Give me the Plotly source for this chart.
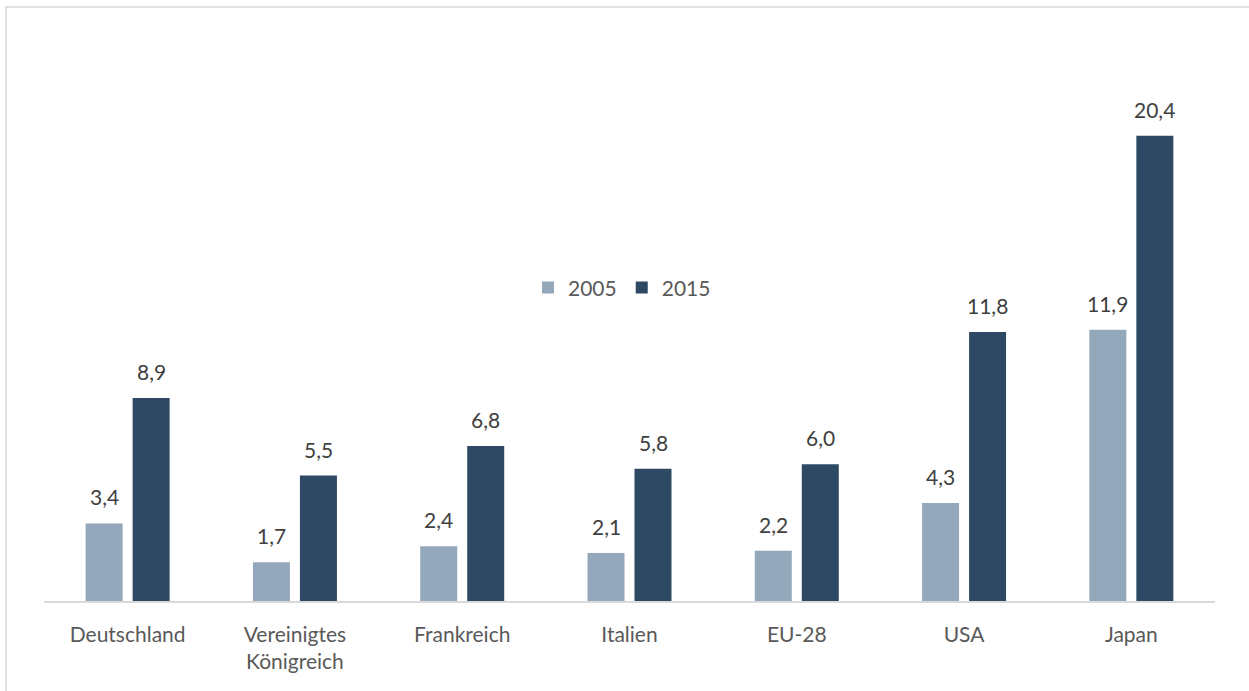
import plotly.graph_objects as go

categories = ["Deutschland", "Vereinigtes<br>Königreich", "Frankreich", "Italien", "EU-28", "USA", "Japan"]
v2005 = [3.4, 1.7, 2.4, 2.1, 2.2, 4.3, 11.9]
v2015 = [8.9, 5.5, 6.8, 5.8, 6.0, 11.8, 20.4]
series_names = ["2005", "2015"]
colors = ["#94A8BC", "#2E4963"]

FONT = "Lato, 'Open Sans', sans-serif"

fig = go.Figure()
for name, vals, col in zip(series_names, [v2005, v2015], colors):
    fig.add_trace(go.Bar(x=categories, y=vals, name=name, marker=dict(color=col, line=dict(width=0))))

annotations = []
for vals, shift in zip([v2005, v2015], [-23.5, 23.5]):
    for c, v in zip(categories, vals):
        annotations.append(dict(x=c, y=v, xref="x", yref="y", text=f"{v:.1f}".replace(".", ","),
                                showarrow=False, xshift=shift, yshift=12, yanchor="bottom",
                                font=dict(family=FONT, size=21, color="#404040")))

fig.update_layout(
    width=1249, height=691,
    margin=dict(l=44, r=34, t=20, b=90),
    paper_bgcolor="white", plot_bgcolor="white",
    barmode="group", bargap=0.438, bargroupgap=0.213,
    font=dict(family=FONT, size=21, color="#595959"),
    showlegend=True,
    legend=dict(orientation="h", x=0.4936, xanchor="center", y=0.539, yanchor="middle",
                font=dict(family=FONT, size=21, color="#595959"), bgcolor="rgba(0,0,0,0)"),
    annotations=annotations,
    shapes=[dict(type="rect", xref="paper", yref="paper", x0=-0.0325, x1=1.2, y0=-0.3, y1=1.0224,
                 line=dict(color="#D9D9D9", width=1.5), fillcolor="rgba(0,0,0,0)", layer="below")],
)
fig.update_xaxes(showline=True, linecolor="#D9D9D9", linewidth=1.5, ticks="outside", ticklen=14,
                 tickcolor="rgba(0,0,0,0)", tickfont=dict(family=FONT, size=21, color="#595959"))
fig.update_yaxes(range=[0, 25.48], showgrid=False, showticklabels=False, zeroline=False, showline=False)

fig.write_html("out.html", config={"displayModeBar": False},
               post_script="document.body.style.margin='0';")
